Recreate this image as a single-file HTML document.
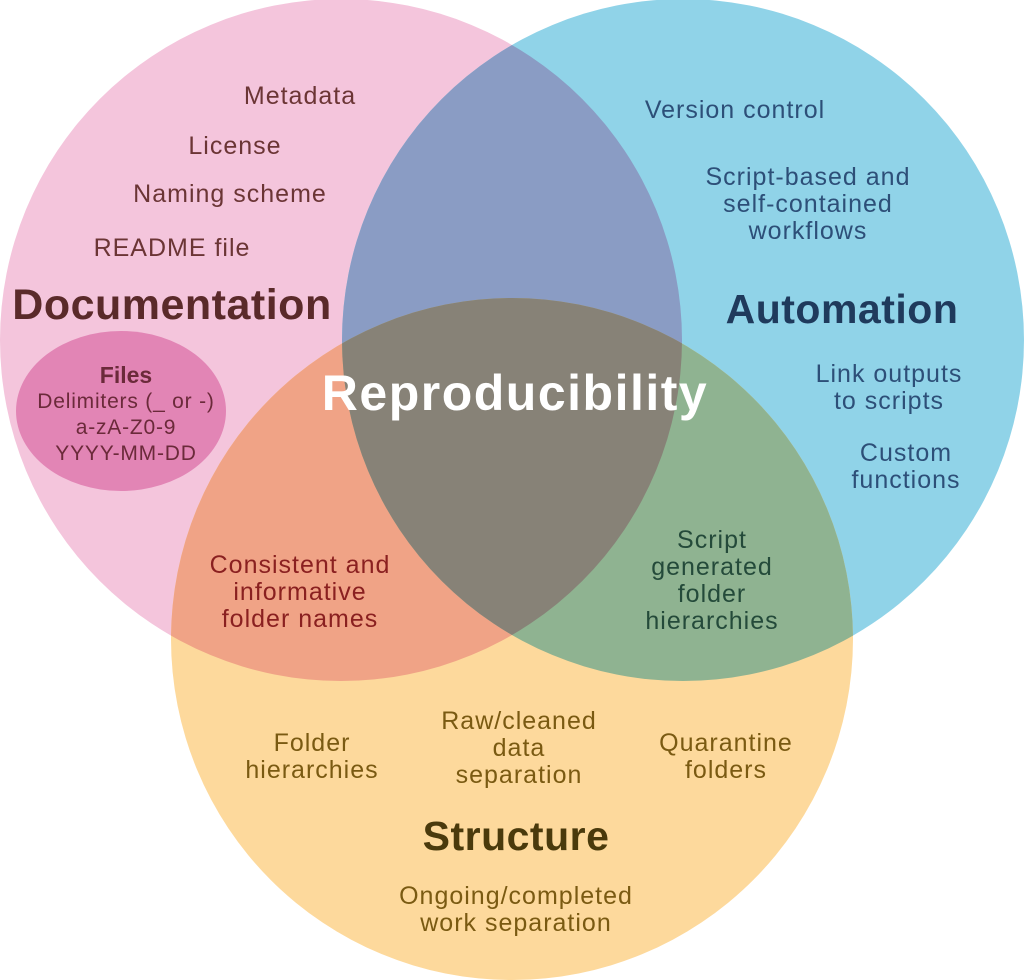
<!DOCTYPE html>
<html><head><meta charset="utf-8"><style>
html,body{margin:0;padding:0;background:#fff;}
svg{display:block;font-family:"Liberation Sans",sans-serif;}
</style></head><body>
<svg width="1024" height="980" viewBox="0 0 1024 980" xmlns="http://www.w3.org/2000/svg">
<defs>
<clipPath id="cp"><circle cx="341" cy="340" r="341"/></clipPath>
<clipPath id="cb"><circle cx="683" cy="340" r="341"/></clipPath>
<clipPath id="cy"><circle cx="512" cy="639" r="341"/></clipPath>
</defs>
<circle cx="341" cy="340" r="341" fill="#f4c5dc"/>
<circle cx="683" cy="340" r="341" fill="#90d3e8"/>
<circle cx="512" cy="639" r="341" fill="#fdd99c"/>
<circle cx="683" cy="340" r="341" fill="#8a9cc4" clip-path="url(#cp)"/>
<circle cx="512" cy="639" r="341" fill="#f0a386" clip-path="url(#cp)"/>
<circle cx="512" cy="639" r="341" fill="#8fb391" clip-path="url(#cb)"/>
<g clip-path="url(#cp)"><circle cx="683" cy="340" r="341" fill="#878277" clip-path="url(#cy)"/></g>
<ellipse cx="121" cy="411" rx="105" ry="80" fill="#e285b5"/>

<g fill="#6b3535" font-size="25" letter-spacing="1" text-anchor="middle">
<text x="300" y="104">Metadata</text>
<text x="235" y="154">License</text>
<text x="230" y="202">Naming scheme</text>
<text x="172" y="256">README file</text>
</g>
<text x="172" y="319" fill="#5a2a2a" font-size="43" letter-spacing="0.5" font-weight="bold" text-anchor="middle">Documentation</text>
<g fill="#6b2a3a" text-anchor="middle">
<text x="126" y="383" font-size="23" font-weight="bold">Files</text>
<text x="126" y="408" font-size="21" letter-spacing="0.8">Delimiters (_ or -)</text>
<text x="126" y="434" font-size="21" letter-spacing="0.8">a-zA-Z0-9</text>
<text x="126" y="460" font-size="21" letter-spacing="0.8">YYYY-MM-DD</text>
</g>
<g fill="#2d4f78" font-size="25" letter-spacing="1" text-anchor="middle">
<text x="735" y="118">Version control</text>
<text x="808" y="185">Script-based and</text>
<text x="808" y="212">self-contained</text>
<text x="808" y="239">workflows</text>
<text x="889" y="382">Link outputs</text>
<text x="889" y="409">to scripts</text>
<text x="906" y="461">Custom</text>
<text x="906" y="488">functions</text>
</g>
<text x="842" y="323" fill="#1f3a5c" font-size="41" letter-spacing="0.5" font-weight="bold" text-anchor="middle">Automation</text>
<text x="515" y="410" fill="#ffffff" font-size="50" letter-spacing="1.5" font-weight="bold" text-anchor="middle">Reproducibility</text>
<g fill="#8a2020" font-size="25" letter-spacing="1" text-anchor="middle">
<text x="300" y="573">Consistent and</text>
<text x="300" y="600">informative</text>
<text x="300" y="627">folder names</text>
</g>
<g fill="#244a3a" font-size="25" letter-spacing="1" text-anchor="middle">
<text x="712" y="548">Script</text>
<text x="712" y="575">generated</text>
<text x="712" y="602">folder</text>
<text x="712" y="629">hierarchies</text>
</g>
<g fill="#7a5a12" font-size="25" letter-spacing="1" text-anchor="middle">
<text x="312" y="751">Folder</text>
<text x="312" y="778">hierarchies</text>
<text x="519" y="729">Raw/cleaned</text>
<text x="519" y="756">data</text>
<text x="519" y="783">separation</text>
<text x="726" y="751">Quarantine</text>
<text x="726" y="778">folders</text>
<text x="516" y="904">Ongoing/completed</text>
<text x="516" y="931">work separation</text>
</g>
<text x="516" y="850" fill="#4a3a0c" font-size="41" letter-spacing="0.5" font-weight="bold" text-anchor="middle">Structure</text>
</svg>
</body></html>
